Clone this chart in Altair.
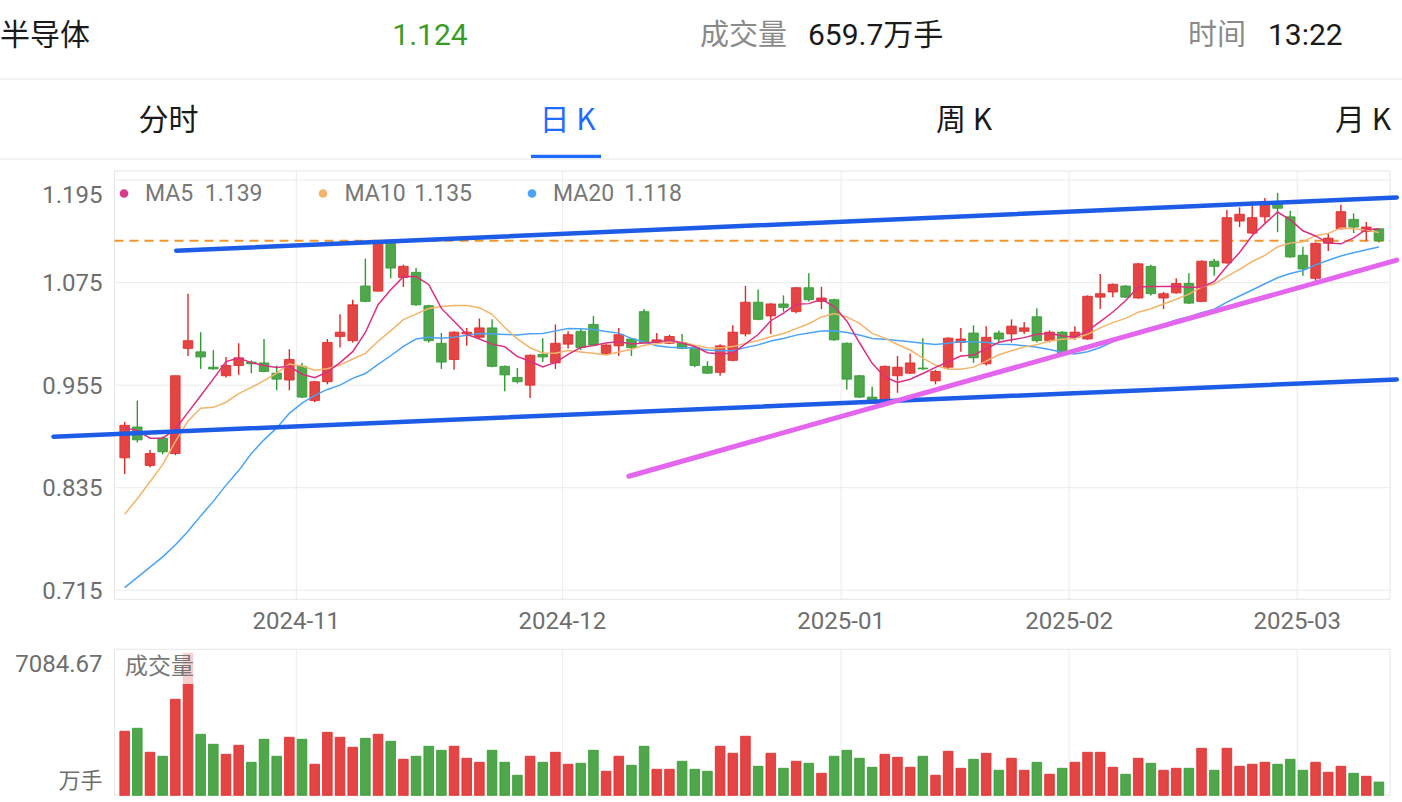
import altair as alt
import pandas as pd
import numpy as np

# ---------------- data ----------------
opens = [0.870, 0.906, 0.861, 0.893, 0.875, 0.998, 0.994, 0.976, 0.966, 0.978,
         0.982, 0.981, 0.969, 0.961, 0.977, 0.937, 0.959, 1.012, 1.007, 1.071,
         1.065, 1.122, 1.081, 1.087, 1.048, 1.004, 0.985, 1.015, 1.011, 1.022,
         0.977, 0.964, 0.955, 0.991, 0.981, 1.003, 1.018, 1.026, 0.992, 1.001,
         1.009, 1.041, 1.005, 1.004, 1.005, 0.999, 0.977, 0.970, 0.984, 1.015,
         1.052, 1.036, 1.050, 1.041, 1.069, 1.053, 1.055, 1.004, 0.966, 0.941,
         0.937, 0.966, 0.969, 0.975, 0.960, 0.976, 1.005, 1.016, 0.980, 1.016,
         1.015, 1.018, 1.035, 1.007, 1.017, 1.011, 1.009, 1.058, 1.064, 1.071,
         1.057, 1.094, 1.057, 1.063, 1.074, 1.053, 1.100, 1.098, 1.147, 1.133,
         1.152, 1.170, 1.152, 1.107, 1.080, 1.121, 1.138, 1.149, 1.135, 1.138]
highs = [0.912, 0.937, 0.879, 0.895, 0.966, 1.062, 1.017, 0.996, 0.988, 1.004,
         0.984, 1.009, 0.978, 0.997, 0.981, 0.960, 1.009, 1.038, 1.055, 1.103,
         1.125, 1.125, 1.096, 1.092, 1.049, 1.016, 1.018, 1.022, 1.033, 1.032,
         0.978, 0.975, 0.991, 1.010, 1.026, 1.018, 1.021, 1.036, 1.003, 1.022,
         1.010, 1.044, 1.016, 1.014, 1.015, 1.001, 0.983, 1.003, 1.025, 1.071,
         1.067, 1.051, 1.060, 1.070, 1.086, 1.070, 1.056, 1.005, 0.967, 0.953,
         0.978, 0.989, 0.992, 1.010, 0.973, 1.011, 1.022, 1.025, 1.024, 1.019,
         1.032, 1.029, 1.045, 1.019, 1.018, 1.024, 1.060, 1.085, 1.074, 1.072,
         1.098, 1.096, 1.064, 1.080, 1.086, 1.101, 1.103, 1.160, 1.163, 1.170,
         1.174, 1.180, 1.159, 1.117, 1.122, 1.133, 1.166, 1.156, 1.146, 1.139]
lows = [0.851, 0.888, 0.859, 0.874, 0.873, 0.989, 0.974, 0.973, 0.964, 0.967,
        0.969, 0.970, 0.949, 0.949, 0.940, 0.935, 0.956, 0.999, 1.005, 1.052,
        1.065, 1.080, 1.070, 1.048, 1.005, 0.974, 0.973, 1.001, 1.010, 0.976,
        0.948, 0.957, 0.940, 0.982, 0.974, 0.998, 0.996, 1.001, 0.991, 0.989,
        0.989, 1.004, 1.004, 1.003, 0.997, 0.976, 0.968, 0.966, 0.983, 1.012,
        1.031, 1.015, 1.041, 1.039, 1.053, 1.044, 1.007, 0.950, 0.940, 0.934,
        0.936, 0.946, 0.968, 0.973, 0.956, 0.974, 0.994, 0.981, 0.978, 1.005,
        1.005, 1.015, 1.005, 1.005, 0.991, 1.008, 1.008, 1.044, 1.058, 1.057,
        1.056, 1.060, 1.044, 1.062, 1.050, 1.052, 1.083, 1.097, 1.140, 1.132,
        1.145, 1.134, 1.104, 1.083, 1.074, 1.112, 1.137, 1.133, 1.124, 1.122]
closes = [0.908, 0.891, 0.875, 0.877, 0.966, 1.007, 0.988, 0.974, 0.978, 0.987,
          0.980, 0.971, 0.962, 0.985, 0.941, 0.959, 1.005, 1.017, 1.049, 1.053,
          1.122, 1.092, 1.094, 1.049, 1.007, 0.982, 1.017, 1.017, 1.022, 0.977,
          0.967, 0.959, 0.990, 0.988, 1.004, 1.014, 0.999, 1.002, 1.002, 1.014,
          0.999, 1.005, 1.008, 1.012, 0.998, 0.978, 0.969, 1.001, 1.017, 1.052,
          1.032, 1.050, 1.046, 1.069, 1.055, 1.057, 1.008, 0.962, 0.941, 0.935,
          0.977, 0.976, 0.981, 0.974, 0.971, 1.010, 1.009, 0.987, 1.011, 1.009,
          1.024, 1.022, 1.007, 1.017, 0.992, 1.017, 1.059, 1.062, 1.073, 1.058,
          1.097, 1.062, 1.062, 1.074, 1.051, 1.100, 1.094, 1.151, 1.155, 1.151,
          1.169, 1.162, 1.105, 1.091, 1.121, 1.127, 1.158, 1.140, 1.140, 1.124]
volumes = [3193, 3343, 2145, 1946, 4789, 7084.67, 3043, 2544, 2045, 2495,
           1646, 2794, 1946, 2894, 2794, 1547, 3143, 2894, 2395, 2844,
           3043, 2694, 1796, 1946, 2445, 2245, 2445, 1846, 1646, 2245,
           1646, 998, 1946, 1646, 2145, 1547, 1596, 2245, 1197, 1946,
           1497, 2445, 1297, 1297, 1696, 1297, 1197, 2445, 2095, 2944,
           1447, 2095, 1347, 1696, 1596, 1098, 1946, 2245, 1846, 1397,
           2045, 1896, 1397, 1946, 998, 2195, 1347, 1796, 2095, 1247,
           1846, 1247, 1646, 1048, 1347, 1646, 2145, 2145, 1397, 1048,
           1846, 1596, 1247, 1347, 1347, 2345, 1247, 2345, 1447, 1547,
           1646, 1547, 1796, 1247, 1646, 1147, 1447, 1098, 948, 659.7]

# moving-average values before a full window is visible
ma5_head = [0.905, 0.902, 0.893, 0.893]
ma10_head = [0.804, 0.822, 0.842, 0.862, 0.889, 0.913, 0.928, 0.929, 0.935]
ma20_head = [0.718, 0.730, 0.742, 0.754, 0.768, 0.784, 0.802, 0.819, 0.838, 0.855,
             0.875, 0.891, 0.905, 0.922, 0.934, 0.943, 0.950, 0.955, 0.963]

month_labels = ["2024-11", "2024-12", "2025-01", "2025-02", "2025-03"]
month_first_idx = [14, 35, 57, 75, 93]
price_ticks = [1.195, 1.075, 0.955, 0.835, 0.715]
last_price = 1.124
vol_top_label = 7084.67

ma_names = ["MA5", "MA10", "MA20"]
ma_values = ["1.139", "1.135", "1.118"]

upper_line_i = [4.07, 100.41]
upper_line_p = [1.1123, 1.1747]
lower_line_i = [-5.62, 100.41]
lower_line_p = [0.8946, 0.9617]
support_line_i = [39.80, 100.41]
support_line_p = [0.8484, 1.1014]

# ---------------- layout / style ----------------
W = 1275.5
PH = 428.3          # price panel height
VT = 478.3          # volume panel top
VB = 624.3          # volume panel bottom
H = VB
CJK = "Noto Sans CJK SC"
NUM = "Roboto, Noto Sans CJK SC"
RED_F, RED_S = "#E34545", "#E32626"
GRN_F, GRN_S = "#4FA64B", "#2E9B2E"
GRID = "#EBEBEB"
LAB = "#6E6E6E"
AXS = 24

df = pd.DataFrame({"i": list(range(len(closes))), "open": opens, "high": highs,
                   "low": lows, "close": closes, "vol": volumes})
df["v0"] = 0.0
df["dir"] = np.where(df["close"] >= df["open"], "up", "down")
ma5 = df["close"].rolling(5).mean().to_numpy()
ma5[:4] = ma5_head
ma10 = df["close"].rolling(10).mean().to_numpy()
ma10[:9] = ma10_head
ma20 = df["close"].rolling(20).mean().to_numpy()
ma20[:19] = ma20_head
df["ma5"], df["ma10"], df["ma20"] = ma5, ma10, ma20

xs = alt.Scale(domain=[-0.407, 99.48], nice=False, zero=False)
ps = alt.Scale(domain=[0.7044, 1.2056], range=[PH, 0], nice=False, zero=False)
vs = alt.Scale(domain=[0, 7284.2], range=[VB, VT], nice=False, zero=False)
fill_sc = alt.Scale(domain=["up", "down"], range=[RED_F, GRN_F])
stroke_sc = alt.Scale(domain=["up", "down"], range=[RED_S, GRN_S])
X = alt.X("i:Q", scale=xs, axis=None)

one = pd.DataFrame({"k": [0]})


def txt(s, x, y, size, color, align="left", font=NUM, dy=0):
    return alt.Chart(one).mark_text(text=s, align=align, baseline="middle", fontSize=size,
                                    color=color, font=font, dy=dy).encode(
        x=alt.value(x), y=alt.value(y))


def hline(x1, x2, y, color, width=1):
    return alt.Chart(one).mark_rule(color=color, strokeWidth=width).encode(
        x=alt.value(x1), x2=alt.value(x2), y=alt.value(y))


# ---------------- header ----------------
header = [
    txt("半导体", -114.5, -135, 30, "#1A1A1A", font=CJK),
    txt("1.124", 315.5, -135, 30, "#3A9B28", align="center"),
    txt("成交量", 585.5, -135, 29, "#8A8A8A", font=CJK),
    txt("659.7万手", 693.5, -135, 30, "#1A1A1A"),
    txt("时间", 1073.5, -135, 29, "#8A8A8A", font=CJK),
    txt("13:22", 1153.5, -135, 30, "#1A1A1A"),
    hline(-114.5, 1287.5, -92, "#EEEEEE", 1.5),
    txt("分时", 54, -50, 30, "#1A1A1A", align="center", font=CJK),
    txt("日 K", 453, -50, 30, "#1F6BFF", align="center", font=CJK),
    txt("周 K", 849.5, -50, 30, "#1A1A1A", align="center", font=CJK),
    txt("月 K", 1248.5, -50, 30, "#1A1A1A", align="center", font=CJK),
    hline(416.5, 486.5, -14.5, "#1F6BFF", 3.5),
    hline(-114.5, 1287.5, -12, "#EEEEEE", 1.5),
]

# ---------------- price panel ----------------
ticks_df = pd.DataFrame({"p": price_ticks, "label": [f"{t:.3f}" for t in price_ticks]})
months_df = pd.DataFrame({"i": [m - 0.45 for m in month_first_idx], "label": month_labels})

grid_h = alt.Chart(ticks_df).mark_rule(color=GRID, strokeWidth=1).encode(
    y=alt.Y("p:Q", scale=ps, axis=None), x=alt.value(0), x2=alt.value(W))
grid_v = alt.Chart(months_df).mark_rule(color=GRID, strokeWidth=1).encode(
    x=X, y=alt.value(0), y2=alt.value(PH))
border_p = alt.Chart(one).mark_rect(fillOpacity=0, stroke="#E6E6E6", strokeWidth=1).encode(
    x=alt.value(0), x2=alt.value(W), y=alt.value(0), y2=alt.value(PH))
dashed = alt.Chart(pd.DataFrame({"p": [last_price]})).mark_rule(
    color="#F0962A", strokeWidth=2, strokeDash=[9, 6]).encode(
    y=alt.Y("p:Q", scale=ps, axis=None), x=alt.value(0), x2=alt.value(W))
wicks = alt.Chart(df).mark_rule(strokeWidth=1.4).encode(
    x=X, y=alt.Y("low:Q", scale=ps, axis=None), y2="high:Q",
    color=alt.Color("dir:N", scale=stroke_sc, legend=None))
bodies = alt.Chart(df).mark_bar(size=9.6, strokeWidth=0.8).encode(
    x=X, y=alt.Y("open:Q", scale=ps, axis=None), y2="close:Q",
    fill=alt.Fill("dir:N", scale=fill_sc, legend=None),
    stroke=alt.Stroke("dir:N", scale=stroke_sc, legend=None))


def ma_line(col, color):
    return alt.Chart(df).mark_line(color=color, strokeWidth=1.5).encode(
        x=X, y=alt.Y(f"{col}:Q", scale=ps, axis=None))


def trend(ii, pp, color, w):
    d = pd.DataFrame({"i": ii, "p": pp})
    return alt.Chart(d).mark_line(color=color, strokeWidth=w, strokeCap="round").encode(
        x=X, y=alt.Y("p:Q", scale=ps, axis=None))


ytxt_top = alt.Chart(ticks_df.iloc[:1]).mark_text(
    align="right", baseline="middle", fontSize=AXS, color=LAB, font=NUM, dy=16).encode(
    y=alt.Y("p:Q", scale=ps, axis=None), x=alt.value(-12), text="label:N")
ytxt_rest = alt.Chart(ticks_df.iloc[1:]).mark_text(
    align="right", baseline="middle", fontSize=AXS, color=LAB, font=NUM, dy=1.5).encode(
    y=alt.Y("p:Q", scale=ps, axis=None), x=alt.value(-12), text="label:N")
mtxt = alt.Chart(months_df).mark_text(
    align="center", baseline="middle", fontSize=AXS, color=LAB, font=NUM).encode(
    x=X, y=alt.value(450.7), text="label:N")

legend = []
dot_x = [9.5, 208.5, 417.5]
name_x = [30.5, 230.0, 438.5]
val_end_x = [148.0, 357.5, 567.5]
dot_c = ["#D93A8B", "#F2B56B", "#4AA3F5"]
for k in range(3):
    legend.append(alt.Chart(one).mark_circle(size=75, color=dot_c[k], opacity=1).encode(
        x=alt.value(dot_x[k]), y=alt.value(22.5)))
    legend.append(txt(ma_names[k], name_x[k], 23, 23, "#777777"))
    legend.append(txt(ma_values[k], val_end_x[k], 23, 23, "#777777", align="right"))

price = alt.layer(
    grid_h, grid_v, border_p, dashed, wicks, bodies,
    ma_line("ma20", "#4AA3F5"), ma_line("ma10", "#F2B56B"), ma_line("ma5", "#DC2F83"),
    trend(upper_line_i, upper_line_p, "#1D5CE6", 4.5),
    trend(lower_line_i, lower_line_p, "#1D5CE6", 4.5),
    trend(support_line_i, support_line_p, "#E466EE", 5),
    ytxt_top, ytxt_rest, mtxt, *legend,
)

# ---------------- volume panel ----------------
vgrid = alt.Chart(months_df).mark_rule(color=GRID, strokeWidth=1).encode(
    x=X, y=alt.value(VT), y2=alt.value(VB))
border_v = alt.Chart(one).mark_rect(fillOpacity=0, stroke="#E6E6E6", strokeWidth=1).encode(
    x=alt.value(0), x2=alt.value(W), y=alt.value(VT), y2=alt.value(VB))
vbars = alt.Chart(df).mark_bar(size=9.6, strokeWidth=0.8).encode(
    x=X, y=alt.Y("vol:Q", scale=vs, axis=None), y2="v0:Q",
    fill=alt.Fill("dir:N", scale=fill_sc, legend=None),
    stroke=alt.Stroke("dir:N", scale=stroke_sc, legend=None))
vlab_df = pd.DataFrame({"v": [vol_top_label], "label": [f"{vol_top_label:.2f}"]})
vlab_top = alt.Chart(vlab_df).mark_text(
    align="right", baseline="middle", fontSize=AXS, color=LAB, font=NUM, dy=12).encode(
    y=alt.Y("v:Q", scale=vs, axis=None), x=alt.value(-12), text="label:N")
vlab_bot = alt.Chart(pd.DataFrame({"v": [0.0], "label": ["万手"]})).mark_text(
    align="right", baseline="middle", fontSize=22, color=LAB, font=CJK, dy=-14).encode(
    y=alt.Y("v:Q", scale=vs, axis=None), x=alt.value(-12), text="label:N")
vbox = alt.Chart(one).mark_rect(fill="white", opacity=0.75).encode(
    x=alt.value(3.5), x2=alt.value(81.5), y=alt.value(481), y2=alt.value(513))
vname = txt("成交量", 10.5, 496, 23, "#777777", font=CJK)

volume = alt.layer(vgrid, border_v, vbars, vlab_top, vlab_bot, vbox, vname)

chart = alt.layer(*header, price, volume).resolve_scale(y="independent").properties(
    width=W, height=H,
    autosize=alt.AutoSizeParams(type="none"),
    padding={"left": 114.5, "top": 171, "right": 12, "bottom": 802 - 171 - H},
    background="white",
).configure_view(stroke="transparent")

chart.save("out.html", embed_options={"renderer": "svg", "actions": False})
